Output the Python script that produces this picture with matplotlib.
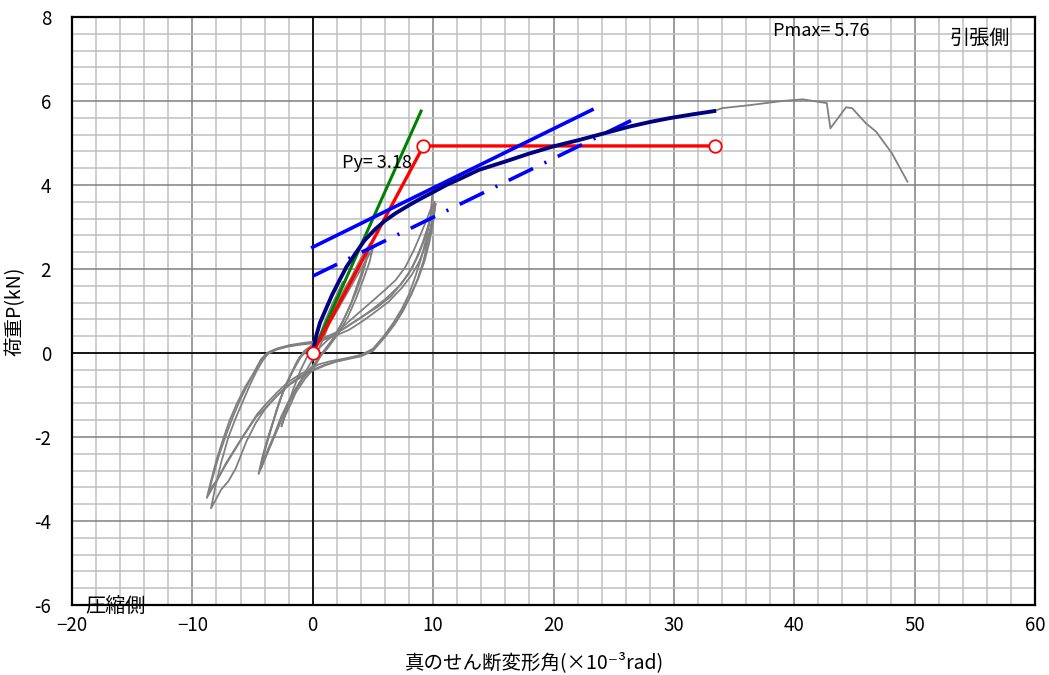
import numpy as np
import matplotlib
matplotlib.use('Agg')
import matplotlib.pyplot as plt
from matplotlib.ticker import MultipleLocator

plt.rcParams['font.family'] = ['Noto Sans CJK JP', 'DejaVu Sans']

# skeleton curve (navy)
skel_x = [0, 0.15, 0.3, 0.6, 1.1, 1.6, 2.2, 2.8, 3.5, 4.3, 5.2, 6.0, 6.9, 8.0, 9.0, 10.0, 11.1, 12.4, 13.8, 16.0, 18.0,
          20.0, 22.1, 24.2, 26.3, 28.0, 29.6, 31.5, 33.35]
skel_y = [0, 0.22, 0.42, 0.72, 1.05, 1.38, 1.72, 2.05, 2.35, 2.68, 2.95, 3.15, 3.33, 3.52, 3.68, 3.83, 4.0, 4.17, 4.36, 4.56, 4.75,
          4.92, 5.07, 5.23, 5.39, 5.5, 5.59, 5.68, 5.76]

# gray tail after the skeleton end
tail_x = [33.35, 34.0, 36.25, 39.0, 40.7, 42.7, 43.0, 44.3, 44.8, 45.95, 46.8, 48.1, 49.4]
tail_y = [5.76, 5.83, 5.9, 6.0, 6.04, 5.95, 5.35, 5.85, 5.83, 5.47, 5.27, 4.76, 4.08]

# hysteresis cycles (gray)
cyc1_x = [0, 0.5, 1.0, 1.6, 2.1, 2.5, 2.2, 1.7, 1.1, 0.5, 0, -0.6, -1.2, -1.8, -2.3, -2.6, -2.2, -1.6, -1.0, -0.4, 0]
cyc1_y = [0, 0.35, 0.75, 1.15, 1.45, 1.7, 1.35, 0.95, 0.5, 0.1, -0.15, -0.45, -0.8, -1.2, -1.5, -1.75, -1.35, -0.85, -0.4, -0.05, 0.1]

cyc2_x = [0, 0.5, 1.0, 1.8, 2.5, 3.2, 3.8, 4.3, 4.8, 4.5, 4.1, 3.6, 3.0, 2.3, 1.6, 0.8, 0, -0.5, -1.0, -1.5, -2.0, -2.6,
          -3.2, -3.8, -4.4, -4.1, -3.7, -3.2, -2.7, -2.2, -1.6, -1.0, -0.5, 0]
cyc2_y = [0.1, 0.3, 0.6, 1.0, 1.45, 1.8, 2.15, 2.4, 2.62, 2.25, 1.85, 1.45, 1.05, 0.65, 0.3, 0.0, -0.35, -0.5, -0.68, -0.9, -1.15, -1.5,
          -1.95, -2.35, -2.8, -2.4, -2.0, -1.55, -1.1, -0.75, -0.4, -0.1, 0.05, 0.2]

cyc3_x = [0, 0.7, 1.3, 2.0, 2.7, 3.4, 4.0, 4.6, 4.3, 3.8, 3.2, 2.5, 1.7, 0.8, 0, -0.6, -1.2, -1.8, -2.4, -3.0, -3.6, -4.1,
          -4.5, -4.2, -3.8, -3.3, -2.8, -2.3, -1.7, -1.1, -0.5, 0]
cyc3_y = [0.2, 0.4, 0.7, 1.05, 1.45, 1.85, 2.15, 2.45, 2.1, 1.7, 1.2, 0.75, 0.35, 0.0, -0.4, -0.6, -0.85, -1.1, -1.45, -1.85, -2.25, -2.6,
          -2.88, -2.5, -2.1, -1.65, -1.2, -0.8, -0.45, -0.1, 0.08, 0.15]

cyc4_x = [0, 0.8, 1.6, 2.4, 3.2, 3.9, 4.5, 5.0, 4.7, 4.2, 3.6, 2.9, 2.1, 1.2, 0.5, 0, -0.5, -1.1, -1.7, -2.3, -2.9, -3.5,
          -4.0, -4.3, -4.0, -3.5, -3.0, -2.5, -1.9, -1.3, -0.7, 0]
cyc4_y = [0.15, 0.45, 0.8, 1.2, 1.6, 1.95, 2.25, 2.5, 2.15, 1.75, 1.3, 0.85, 0.45, 0.1, -0.12, -0.3, -0.45, -0.7, -1.0, -1.35, -1.8, -2.2,
          -2.55, -2.75, -2.35, -1.85, -1.35, -0.95, -0.55, -0.2, 0.05, 0.2]

cyc5_x = [9.95, 9.8, 9.5, 9.0, 8.5, 8.0, 7.4, 6.7, 5.9, 5.0, 4.0, 3.0, 2.0, 1.0, 0, -1.0, -2.0, -3.0, -4.0, -4.7, -5.5, -6.4,
          -7.0, -7.6, -8.45, -8.1, -7.6, -7.0, -6.4, -5.8, -5.2, -4.7, -4.2, -3.6, -2.8, -1.9, -1.0, 0,
          0.8, 1.8, 2.8, 3.9, 5.0, 6.1, 7.2, 8.0, 8.6, 9.1, 9.5, 9.8, 10.1]
cyc5_y = [3.84, 3.3, 2.8, 2.25, 1.8, 1.4, 1.05, 0.72, 0.4, 0.1, -0.05, -0.13, -0.2, -0.28, -0.4, -0.55, -0.75, -1.02, -1.35, -1.65, -2.1, -2.75,
          -3.05, -3.25, -3.7, -3.2, -2.6, -2.0, -1.55, -1.15, -0.75, -0.45, -0.2, 0.03, 0.12, 0.19, 0.23, 0.27,
          0.35, 0.47, 0.62, 0.82, 1.05, 1.3, 1.6, 1.9, 2.25, 2.6, 2.95, 3.25, 3.6]

cyc6_x = [10.1, 9.9, 9.6, 9.2, 8.7, 8.1, 7.5, 6.8, 6.0, 5.0, 4.0, 3.0, 2.0, 1.0, 0, -1.0, -1.9, -2.9, -3.9, -4.7, -5.7, -6.65,
          -7.3, -7.9, -8.4, -8.7, -8.3, -7.8, -7.2, -6.6, -6.0, -5.4, -4.8, -4.3, -3.8, -3.0, -2.0, -1.0, 0,
          0.9, 1.8, 3.0, 4.1, 5.2, 6.3, 7.4, 8.2, 8.8, 9.3, 9.7, 10.0, 10.2]
cyc6_y = [3.6, 3.15, 2.7, 2.2, 1.75, 1.35, 1.0, 0.68, 0.38, 0.05, -0.08, -0.14, -0.2, -0.3, -0.42, -0.58, -0.75, -1.0, -1.3, -1.52, -1.95, -2.39,
          -2.7, -3.0, -3.2, -3.38, -2.95, -2.45, -1.95, -1.5, -1.1, -0.75, -0.42, -0.15, 0.0, 0.1, 0.17, 0.21, 0.25,
          0.32, 0.4, 0.55, 0.75, 0.98, 1.22, 1.55, 1.85, 2.15, 2.5, 2.85, 3.2, 3.55]

cyc7_x = [10.2, 10.0, 9.7, 9.3, 8.8, 8.2, 7.6, 6.9, 6.1, 5.1, 4.1, 3.2, 2.3, 1.4, 0.5, 0, -1.0, -2.0, -3.0, -3.9, -4.6, -5.5,
          -6.5, -7.2, -7.8, -8.3, -8.8, -8.5, -8.0, -7.5, -6.9, -6.3, -5.6, -4.9, -4.4, -3.9, -3.0, -2.1, -1.0, 0,
          0.8, 1.6, 2.5, 3.2, 4.3, 5.4, 6.5, 7.5, 8.3, 8.8, 9.2, 9.6, 10.0]
cyc7_y = [3.55, 3.1, 2.65, 2.2, 1.8, 1.4, 1.08, 0.75, 0.45, 0.1, -0.04, -0.1, -0.15, -0.2, -0.27, -0.35, -0.5, -0.68, -0.95, -1.22, -1.45, -1.85,
          -2.3, -2.62, -2.95, -3.2, -3.45, -3.1, -2.55, -2.1, -1.6, -1.2, -0.8, -0.48, -0.22, -0.05, 0.08, 0.15, 0.2, 0.23,
          0.3, 0.42, 0.56, 0.7, 0.9, 1.1, 1.35, 1.7, 2.05, 2.35, 2.65, 3.0, 3.5]

# reload branch of an intermediate cycle
cyc8_x = [0.3, 1.2, 2.2, 3.2, 4.2, 5.2, 6.0, 6.9, 7.7, 8.4, 9.0, 9.5, 9.9]
cyc8_y = [0.05, 0.3, 0.55, 0.8, 1.05, 1.3, 1.5, 1.74, 2.05, 2.45, 2.85, 3.2, 3.5]

# characteristic lines
green_x = [0, 9.0]
green_y = [0, 5.76]
red_x = [0, 9.2, 33.4]
red_y = [0, 4.93, 4.93]
blue_x = [0, 23.2]
blue_y = [2.52, 5.79]
dashdot_x = [0, 27.2]
dashdot_y = [1.83, 5.64]

xticks = [-20, -10, 0, 10, 20, 30, 40, 50, 60]
xtick_labels = ['−20', '−10', '0', '10', '20', '30', '40', '50', '60']
yticks = [-6, -4, -2, 0, 2, 4, 6, 8]
ytick_labels = ['-6', '-4', '-2', '0', '2', '4', '6', '8']

fig = plt.figure(figsize=(10.49, 6.75), dpi=100)
ax = fig.add_axes([0.0686, 0.1037, 0.9181, 0.8711])
ax.set_xlim(-20, 60)
ax.set_ylim(-6, 8)

ax.xaxis.set_minor_locator(MultipleLocator(2))
ax.yaxis.set_minor_locator(MultipleLocator(0.4))
ax.grid(which='minor', color='#c0c0c0', linewidth=1.1, zorder=0)
ax.grid(which='major', color='#808080', linewidth=1.1, zorder=0)
ax.set_axisbelow(True)
ax.axhline(0, color='black', linewidth=1.2, zorder=1)
ax.axvline(0, color='black', linewidth=1.2, zorder=1)
for s in ax.spines.values():
    s.set_linewidth(1.6)

ax.set_xticks(xticks)
ax.set_xticklabels(xtick_labels)
ax.set_yticks(yticks)
ax.set_yticklabels(ytick_labels)
ax.tick_params(which='both', length=0, labelsize=13.5)
ax.tick_params(axis='x', pad=7)
ax.tick_params(axis='y', pad=15)

gray = '#808080'
for cx, cy in [(cyc1_x, cyc1_y), (cyc2_x, cyc2_y), (cyc3_x, cyc3_y), (cyc4_x, cyc4_y),
               (cyc5_x, cyc5_y), (cyc6_x, cyc6_y), (cyc7_x, cyc7_y), (cyc8_x, cyc8_y)]:
    ax.plot(cx, cy, color=gray, linewidth=1.3, zorder=2)
ax.plot(skel_x + tail_x[1:], skel_y + tail_y[1:], color=gray, linewidth=1.3, zorder=2)

ax.plot(green_x, green_y, color='green', linewidth=2.2, zorder=3)
ax.plot(red_x, red_y, color='red', linewidth=2.4, zorder=4)
ax.plot(blue_x, blue_y, color='blue', linewidth=2.6, zorder=5)
ax.plot(dashdot_x, dashdot_y, color='blue', linewidth=2.6, linestyle=(0, (7.5, 3.5, 0.6, 3.5)), zorder=5)
ax.plot(skel_x, skel_y, color='#000080', linewidth=2.8, zorder=6)
ax.plot(red_x, red_y, linestyle='none', marker='o',
        markersize=9, markerfacecolor='white', markeredgecolor='red', markeredgewidth=1.3, zorder=7)

ax.text(38.2, 7.67, 'Pmax= 5.76', fontsize=13, va='center', ha='left')
ax.text(52.9, 7.48, '引張側', fontsize=14.5, va='center', ha='left')
ax.text(2.45, 4.52, 'Py= 3.18', fontsize=13, va='center', ha='left', zorder=8)
ax.text(-18.9, -6.07, '圧縮側', fontsize=14.5, va='center', ha='left', clip_on=False)

ax.set_xlabel('真のせん断変形角(×10⁻³rad)', fontsize=14)
ax.set_ylabel('荷重P(kN)', fontsize=14, labelpad=6)
ax.xaxis.set_label_coords(0.48, -0.08)

plt.savefig('out.png', dpi=100)
